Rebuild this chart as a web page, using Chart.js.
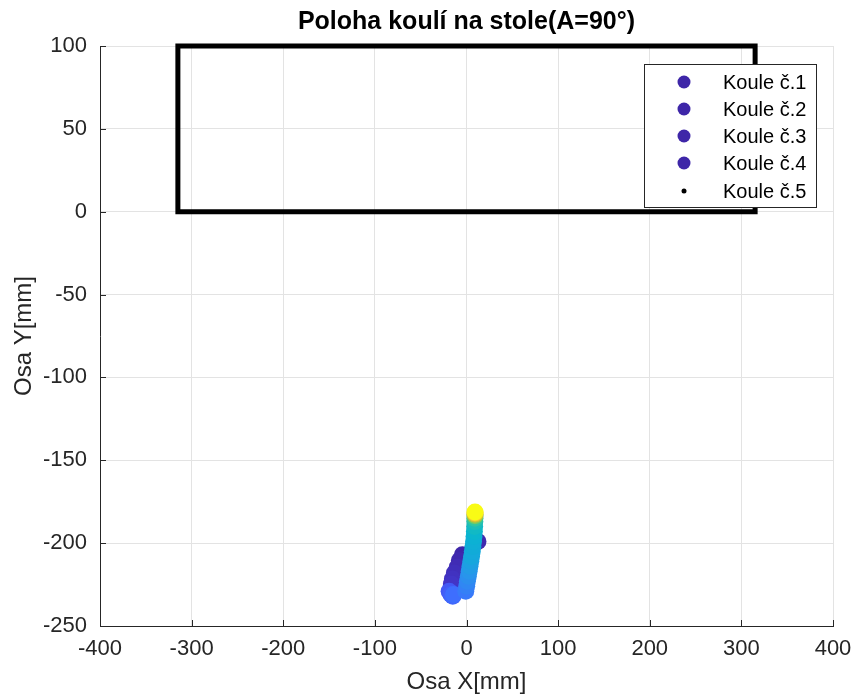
<!DOCTYPE html>
<html>
<head>
<meta charset="utf-8">
<script src="https://cdn.jsdelivr.net/npm/chart.js@4/dist/chart.umd.min.js"></script>
<style>
  html, body { margin: 0; padding: 0; background: #ffffff; }
  #wrap { width: 856px; height: 699px; }
</style>
</head>
<body>
<div id="wrap"><canvas id="c" width="856" height="699"></canvas></div>
<script>
// Ball positions on the table [mm]; frame = time index used for colouring
const seriesLabels = ['Koule č.1', 'Koule č.2', 'Koule č.3', 'Koule č.4', 'Koule č.5'];

const ball1X = [-0.8, 0.2, 1.0, 2.0, 2.9, 3.8, 4.7, 5.5, 6.3, 7.0, 7.7, 8.2, 8.6, 8.9, 9.1, 9.2, 9.3, 9.3, 9.3, 9.3];
const ball1Y = [-229, -226, -223, -220, -217, -214, -211, -208, -205, -202, -199, -196, -193, -190, -187, -185, -183.5, -182.5, -181.8, -181.2];
const ball1Frame = [25, 27, 29, 31, 33, 35, 37, 39, 40, 41, 42, 43, 45, 47, 50, 55, 65, 75, 87, 100];

const ball2X = [-19, -17, -15, -14];
const ball2Y = [-229, -231, -232, -231];
const ball2Frame = [16, 18, 20, 22];

const ball3X = [-4.5, -7.8, -10, -13.2, -15.4, -16.5];
const ball3Y = [-207, -210.5, -214.4, -218, -221.6, -224.6];
const ball3Frame = [0, 1, 2, 3, 4, 5];

const ball4X = [12.5];
const ball4Y = [-199];
const ball4Frame = [1];

const ball5X = [];
const ball5Y = [];
const ball5Frame = [];

const frameMax = 100;

// Table outline [mm]
const tableX = [-315, -315, 315, 315, -315];
const tableY = [0, 100, 100, 0, 0];

const xTicks = [-400, -300, -200, -100, 0, 100, 200, 300, 400];
const yTicks = [-250, -200, -150, -100, -50, 0, 50, 100];

// parula colour map anchors
const PARULA = [
  [0.2422, 0.1504, 0.6603], [0.2803, 0.2782, 0.9221], [0.2440, 0.4358, 0.9988],
  [0.1540, 0.5902, 0.9218], [0.0297, 0.7082, 0.8163], [0.1938, 0.7758, 0.6251],
  [0.5044, 0.7993, 0.3480], [0.8634, 0.7406, 0.1596], [0.9892, 0.8136, 0.1885],
  [0.9769, 0.9839, 0.0805]
];
function parula(t) {
  t = Math.min(1, Math.max(0, t));
  const s = t * (PARULA.length - 1);
  const i = Math.min(PARULA.length - 2, Math.floor(s));
  const f = s - i;
  const c = PARULA[i].map((v, k) => Math.round(255 * (v + (PARULA[i + 1][k] - v) * f)));
  return `rgb(${c[0]},${c[1]},${c[2]})`;
}

const toPoints = (xs, ys) => xs.map((x, i) => ({ x, y: ys[i] }));

function ballDataset(label, xs, ys, frames) {
  return {
    label,
    data: toPoints(xs, ys),
    pointBackgroundColor: frames.map(f => parula(f / frameMax)),
    pointBorderWidth: 0,
    pointRadius: 8.5,
    pointHoverRadius: 8.5,
    showLine: false
  };
}

const datasets = [
  ballDataset(seriesLabels[0], ball1X, ball1Y, ball1Frame),
  ballDataset(seriesLabels[1], ball2X, ball2Y, ball2Frame),
  ballDataset(seriesLabels[2], ball3X, ball3Y, ball3Frame),
  ballDataset(seriesLabels[3], ball4X, ball4Y, ball4Frame),
  Object.assign(ballDataset(seriesLabels[4], ball5X, ball5Y, ball5Frame), {
    pointBackgroundColor: '#000000', pointRadius: 2.5
  }),
  {
    label: 'stůl',
    data: toPoints(tableX, tableY),
    showLine: true,
    borderColor: '#000000',
    borderWidth: 5,
    borderCapStyle: 'square',
    borderJoinStyle: 'miter',
    pointRadius: 0,
    fill: false,
    clip: false
  }
];

const AXIS_COLOR = '#262626';

// Tick marks pointing into the plot area
const inwardTicks = {
  id: 'inwardTicks',
  afterDatasetsDraw(chart) {
    const { ctx, chartArea: a, scales: { x, y } } = chart;
    ctx.save();
    ctx.strokeStyle = AXIS_COLOR;
    ctx.lineWidth = 1;
    ctx.beginPath();
    x.ticks.forEach(t => {
      const p = Math.round(x.getPixelForValue(t.value)) + 0.5;
      ctx.moveTo(p, a.bottom);
      ctx.lineTo(p, a.bottom - 6);
    });
    y.ticks.forEach(t => {
      const p = Math.round(y.getPixelForValue(t.value)) + 0.5;
      ctx.moveTo(a.left, p);
      ctx.lineTo(a.left + 6, p);
    });
    ctx.stroke();
    ctx.restore();
  }
};

// Boxed legend in the upper right corner of the plot
const boxLegend = {
  id: 'boxLegend',
  afterDraw(chart) {
    const { ctx } = chart;
    const left = 644.5, top = 64.5, w = 172, h = 143;
    const rowY = [82, 109, 136, 163, 191];
    ctx.save();
    ctx.fillStyle = '#ffffff';
    ctx.fillRect(left, top, w, h);
    ctx.strokeStyle = AXIS_COLOR;
    ctx.lineWidth = 1;
    ctx.strokeRect(left, top, w, h);
    ctx.font = '20px "Liberation Sans", Arial, sans-serif';
    ctx.textBaseline = 'middle';
    ctx.textAlign = 'left';
    chart.data.datasets.slice(0, seriesLabels.length).forEach((ds, i) => {
      const cy = rowY[i];
      const small = i === seriesLabels.length - 1;
      ctx.beginPath();
      ctx.arc(684, cy, small ? 2.5 : 6.5, 0, Math.PI * 2);
      ctx.fillStyle = small ? '#000000' : parula(0);
      ctx.fill();
      ctx.fillStyle = '#000000';
      ctx.fillText(ds.label, 723, cy + 1);
    });
    ctx.restore();
  }
};

Chart.defaults.font.family = '"Liberation Sans", Arial, sans-serif';

new Chart(document.getElementById('c'), {
  type: 'scatter',
  data: { datasets },
  plugins: [inwardTicks, boxLegend],
  options: {
    responsive: false,
    animation: false,
    events: [],
    layout: { padding: { left: 0, right: 23, top: 0, bottom: 0 } },
    plugins: {
      legend: { display: false },
      tooltip: { enabled: false },
      title: {
        display: true,
        fullSize: false,
        text: 'Poloha koulí na stole(A=90°)',
        color: '#000000',
        font: { size: 25, weight: 'bold' },
        padding: { top: 7, bottom: 9 }
      }
    },
    scales: {
      x: {
        type: 'linear',
        min: -400,
        max: 400,
        afterBuildTicks: s => { s.ticks = xTicks.map(v => ({ value: v })); },
        afterFit: s => { s.height = 73; s.paddingLeft = 0; s.paddingRight = 0; },
        ticks: {
          color: AXIS_COLOR,
          font: { size: 22 },
          padding: 10,
          maxRotation: 0,
          autoSkip: false,
          callback: v => String(v)
        },
        grid: { color: '#e3e3e3', drawTicks: false },
        border: { color: AXIS_COLOR, width: 1 },
        title: {
          display: true,
          text: 'Osa X[mm]',
          color: AXIS_COLOR,
          font: { size: 24 },
          padding: { top: 0, bottom: 2 }
        }
      },
      y: {
        type: 'linear',
        min: -250,
        max: 100,
        afterBuildTicks: s => { s.ticks = yTicks.map(v => ({ value: v })); },
        afterFit: s => { s.width = 100; s.paddingTop = 0; s.paddingBottom = 0; },
        ticks: {
          color: AXIS_COLOR,
          font: { size: 22 },
          padding: 13,
          autoSkip: false,
          callback: v => String(v)
        },
        grid: { color: '#e3e3e3', drawTicks: false },
        border: { color: AXIS_COLOR, width: 1 },
        title: {
          display: true,
          text: 'Osa Y[mm]',
          color: AXIS_COLOR,
          font: { size: 24 },
          padding: { top: 10, bottom: 0 }
        }
      }
    }
  }
});
</script>
</body>
</html>
